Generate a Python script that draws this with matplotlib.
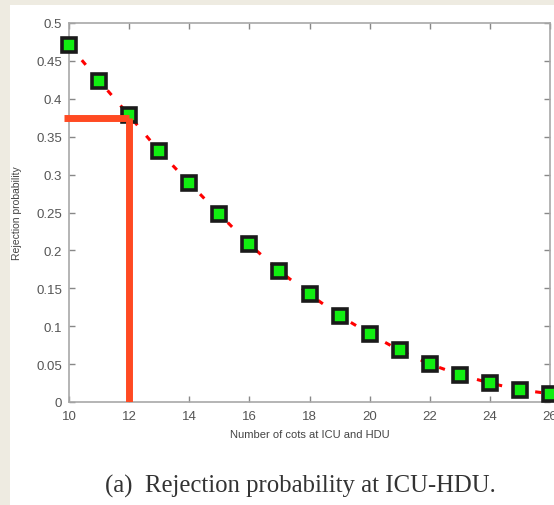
import matplotlib
matplotlib.use("Agg")
import matplotlib.pyplot as plt
from matplotlib.patches import Rectangle

cots = [10, 11, 12, 13, 14, 15, 16, 17, 18, 19, 20, 21, 22, 23, 24, 25, 26]
rejection = [0.471, 0.424, 0.378, 0.331, 0.289, 0.248, 0.208, 0.173, 0.142,
             0.114, 0.090, 0.068, 0.050, 0.036, 0.025, 0.016, 0.011]
marked_cots = 12
marked_prob = 0.375

plt.rcParams['font.family'] = ['Liberation Sans', 'DejaVu Sans']

fig = plt.figure(figsize=(5.54, 5.06), dpi=100)
fig.patch.set_facecolor("white")
# beige page border on top and left
fig.patches.append(Rectangle((0, 1 - 6 / 506), 1, 6 / 506, transform=fig.transFigure,
                             facecolor="#eeebe1", edgecolor="none", zorder=0))
fig.patches.append(Rectangle((0, 0), 10 / 554, 1, transform=fig.transFigure,
                             facecolor="#eeebe1", edgecolor="none", zorder=0))

ax = fig.add_axes([69 / 554, 1 - 403 / 506, (550 - 69) / 554, (403 - 24) / 506])
ax.set_facecolor("white")

ax.plot(cots, rejection, color="red", linestyle=(0, (2, 4.5)), linewidth=2.2, zorder=2)
ax.plot(cots, rejection, linestyle="none", marker="s", markersize=10,
        markerfacecolor="#11ee11", markeredgecolor="#1a1a1a", markeredgewidth=2.6, zorder=3,
        clip_on=False)

# highlight lines at 12 cots
ax.plot([9.85, marked_cots], [marked_prob, marked_prob], color="#ff4a22", linewidth=5,
        solid_capstyle="butt", clip_on=False, zorder=4)
ax.plot([marked_cots, marked_cots], [0, marked_prob], color="#ff4a22", linewidth=5,
        solid_capstyle="butt", zorder=4)

ax.set_xlim(10, 26)
ax.set_ylim(0, 0.5)
ax.set_xticks(range(10, 27, 2))
ax.set_yticks([0, 0.05, 0.1, 0.15, 0.2, 0.25, 0.3, 0.35, 0.4, 0.45, 0.5])
ax.set_yticklabels(["0", "0.05", "0.1", "0.15", "0.2", "0.25", "0.3", "0.35", "0.4", "0.45", "0.5"])

for s in ax.spines.values():
    s.set_color("#a8a8a8")
    s.set_linewidth(1.2)
ax.tick_params(direction="in", top=True, right=True, length=4, width=1,
               color="#888888", labelcolor="#555555", labelsize=9.5)
ax.tick_params(axis="y", pad=5)
ax.tick_params(axis="x", pad=6)

ax.set_xlabel("Number of cots at ICU and HDU", fontsize=8, color="#444444", labelpad=5)
ax.set_ylabel("Rejection probability", fontsize=7.5, color="#444444", labelpad=10)

fig.text(0.543, 1 - 486 / 506, "(a)  Rejection probability at ICU-HDU.", ha="center", va="center",
         fontsize=17.8, family="Liberation Serif", color="#333333")

fig.savefig("out.png", dpi=100, facecolor=fig.get_facecolor())
